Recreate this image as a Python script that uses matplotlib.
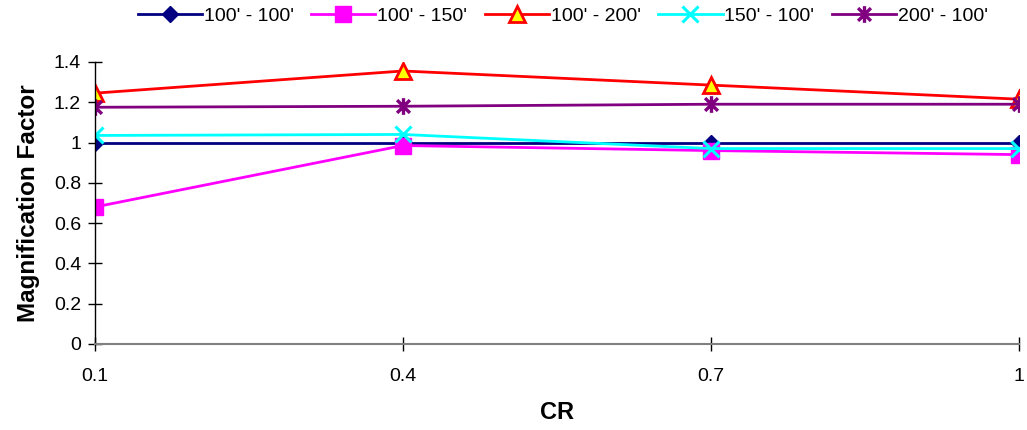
import numpy as np
import matplotlib
matplotlib.use("Agg")
import matplotlib.pyplot as plt
from matplotlib.path import Path

plt.rcParams['font.family'] = ['Liberation Sans', 'DejaVu Sans']

# data
cr_labels = ["0.1", "0.4", "0.7", "1"]
s_100_100 = [1.00, 1.00, 1.00, 1.00]
s_100_150 = [0.68, 0.985, 0.96, 0.94]
s_100_200 = [1.245, 1.355, 1.285, 1.215]
s_150_100 = [1.035, 1.04, 0.97, 0.97]
s_200_100 = [1.175, 1.18, 1.19, 1.19]
names = ["100' - 100'", "100' - 150'", "100' - 200'", "150' - 100'", "200' - 100'"]

# asterisk marker (x with a vertical bar) like the spreadsheet one
star = Path([(-1, -1), (1, 1), (-1, 1), (1, -1), (0, -1.3), (0, 1.3)],
            [Path.MOVETO, Path.LINETO, Path.MOVETO, Path.LINETO, Path.MOVETO, Path.LINETO])

fig = plt.figure(figsize=(10.27, 4.3), dpi=100)
ax = fig.add_axes([0.0925, 0.2, 0.8995, 0.656])

x = np.arange(len(cr_labels))
lw = 2.0
ax.plot(x, s_100_100, color='#000080', lw=lw, marker='D', ms=8, mfc='#000080', mec='#000080', label=names[0])
ax.plot(x, s_100_150, color='#FF00FF', lw=lw, marker='s', ms=11, mfc='#FF00FF', mec='#FF00FF', label=names[1])
ax.plot(x, s_100_200, color='#FF0000', lw=lw, marker='^', ms=11, mfc='#FFFF00', mec='#FF0000', mew=2, label=names[2])
ax.plot(x, s_150_100, color='#00FFFF', lw=lw, marker='x', ms=11, mec='#00FFFF', mew=2.2, label=names[3])
ax.plot(x, s_200_100, color='#800080', lw=lw, marker=star, ms=12, mec='#800080', mew=2.4, label=names[4])

ax.set_xlim(0, len(cr_labels) - 1)
ax.set_ylim(0, 1.4)
ax.set_xticks(x)
ax.set_xticklabels(cr_labels)
ax.set_yticks(np.arange(0, 1.41, 0.2))
ax.set_yticklabels(["0", "0.2", "0.4", "0.6", "0.8", "1", "1.2", "1.4"])
ax.tick_params(axis='both', direction='inout', length=10, width=1, labelsize=14, pad=5)
ax.tick_params(axis='x', pad=12)

for side in ['top', 'right']:
    ax.spines[side].set_visible(False)
ax.spines['left'].set_color('black')
ax.spines['bottom'].set_color('#808080')
ax.spines['bottom'].set_linewidth(1.5)
ax.spines['left'].set_linewidth(1)

ax.set_xlabel("CR", fontsize=17, fontweight='bold', labelpad=12)
ax.set_ylabel("Magnification Factor", fontsize=17.5, fontweight='bold', labelpad=10)

fig.legend(loc='center', bbox_to_anchor=(0.548, 0.962), ncol=5, frameon=False,
           fontsize=14, handlelength=3.3, handletextpad=0.1, columnspacing=0.9)

fig.savefig("out.png", dpi=100)
